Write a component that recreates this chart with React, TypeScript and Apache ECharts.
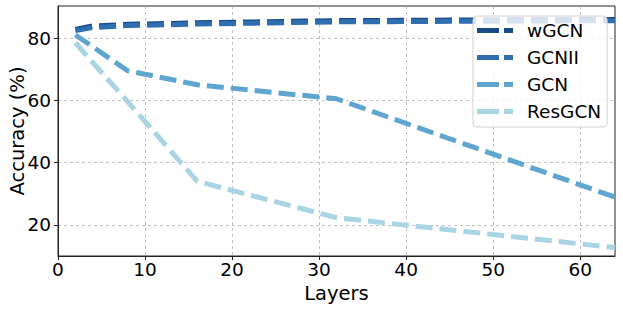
import React, { useEffect, useRef } from "react";
import * as echarts from "echarts";

const layers = [2, 4, 8, 16, 32, 64];
const wGCN = [82.8, 83.9, 84.4, 84.9, 85.6, 86.0];
const GCNII = [82.4, 83.4, 84.0, 84.5, 85.2, 85.6];
const GCN = [81.0, 77.2, 69.5, 65.0, 60.5, 28.9];
const ResGCN = [78.5, 72.1, 59.6, 34.0, 22.3, 12.7];
const xTicks = [0, 10, 20, 30, 40, 50, 60];
const yTicks = [20, 40, 60, 80];

const seriesNames = ["wGCN", "GCNII", "GCN", "ResGCN"];
const seriesData = [wGCN, GCNII, GCN, ResGCN];
const colors = ["#174a87", "#2f6fb0", "#5ea5d0", "#a9d4e4"];

const FONT = "DejaVu Sans";
const LEGEND_ICON = "path://M0,0H22V5H0Z M27,0H36V5H27Z";
const Y_NAME = "Accuracy (%)";

export default function App() {
  const ref = useRef<HTMLDivElement>(null);
  useEffect(() => {
    if (!ref.current) return;
    document.body.style.margin = "0";
    const chart = echarts.init(ref.current, undefined, { renderer: "svg" });
    chart.setOption({
      animation: false,
      textStyle: { fontFamily: FONT },
      grid: {
        left: 58,
        right: 8,
        top: 6,
        bottom: 53,
        outerBoundsMode: "none",
        containLabel: false,
        show: true,
        borderColor: "#222",
        borderWidth: 1,
        backgroundColor: "transparent",
      },
      graphic: [
        {
          type: "text",
          x: 17.5,
          y: 131,
          rotation: Math.PI / 2,
          style: {
            text: Y_NAME,
            fontFamily: FONT,
            fontSize: 19.5,
            fill: "#000",
            align: "center",
            verticalAlign: "middle",
          },
        },
      ],
      legend: {
        data: seriesNames.map((n) => ({ name: n, icon: LEGEND_ICON })),
        orient: "vertical",
        left: 473,
        top: 16,
        itemWidth: 36,
        itemHeight: 5,
        itemGap: 8,
        padding: [5, 6, 6, 4],
        backgroundColor: "rgba(255,255,255,0.8)",
        borderColor: "#d0d0d0",
        borderWidth: 1,
        borderRadius: 4,
        textStyle: { fontFamily: FONT, fontSize: 18.5, color: "#000", padding: [0, 0, 0, 9] },
      },
      xAxis: {
        type: "value",
        min: 0,
        max: 64,
        name: "Layers",
        nameLocation: "middle",
        nameGap: 27.5,
        nameTextStyle: { fontFamily: FONT, fontSize: 19.5, color: "#000" },
        axisLine: { show: true, lineStyle: { color: "#222", width: 1 } },
        axisTick: { show: true, length: 4, customValues: xTicks, lineStyle: { color: "#222" } },
        axisLabel: { customValues: xTicks, fontFamily: FONT, fontSize: 18.5, color: "#000", margin: 4 },
        splitLine: { show: true, lineStyle: { color: "#b0b0b0", width: 0.8, type: [3, 3] } },
      },
      yAxis: {
        type: "value",
        min: 10,
        max: 90.3,
        axisLine: { show: true, lineStyle: { color: "#222", width: 1 } },
        axisTick: { show: true, length: 4, customValues: yTicks, lineStyle: { color: "#222" } },
        axisLabel: { customValues: yTicks, fontFamily: FONT, fontSize: 18.5, color: "#000", margin: 7 },
        splitLine: { show: true, lineStyle: { color: "#b0b0b0", width: 0.8, type: [3, 3] } },
      },
      series: seriesNames.map((name, i) => ({
        name,
        type: "line",
        data: layers.map((x, j) => [x, seriesData[i][j]]),
        symbol: "none",
        lineStyle: { color: colors[i], width: 5, type: [17, 7] },
        itemStyle: { color: colors[i] },
      })),
    });
    return () => chart.dispose();
  }, []);
  return <div ref={ref} style={{ width: 623, height: 309 }} />;
}
